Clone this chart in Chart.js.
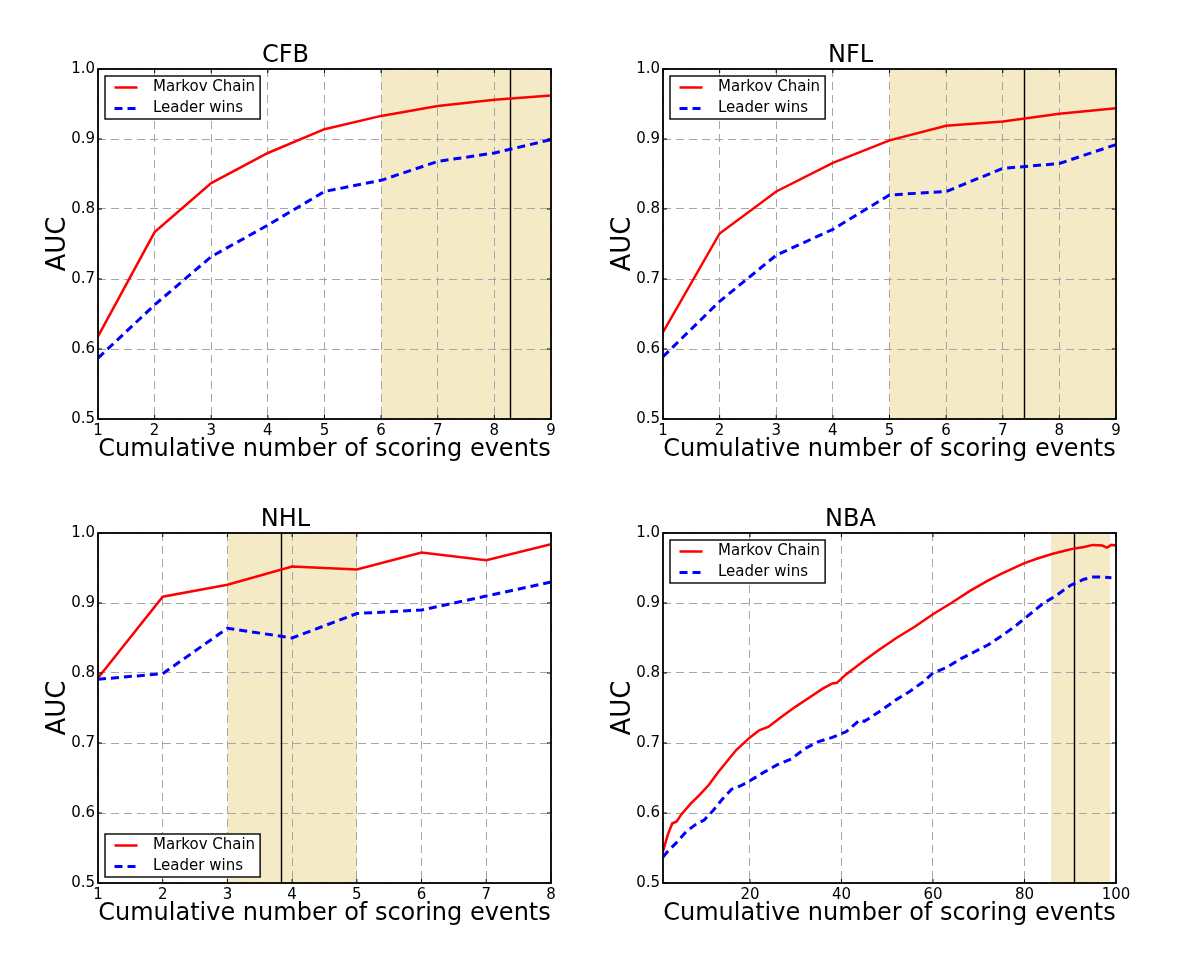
<!DOCTYPE html>
<html>
<head>
<meta charset="utf-8">
<script src="https://cdn.jsdelivr.net/npm/chart.js@4.4.1/dist/chart.umd.min.js"></script>
<style>
  body { margin: 0; background: #fff; }
  #wrap { position: relative; width: 1200px; height: 954px; background: #fff; }
  .panel { position: absolute; }
</style>
</head>
<body>
<div id="wrap">
  <canvas id="cfb" class="panel" width="600" height="477" style="left:0;top:0"></canvas>
  <canvas id="nfl" class="panel" width="600" height="477" style="left:565px;top:0"></canvas>
  <canvas id="nhl" class="panel" width="600" height="477" style="left:0;top:464px"></canvas>
  <canvas id="nba" class="panel" width="600" height="477" style="left:565px;top:464px"></canvas>
</div>
<script>
// --- data ---
const yTicks = [0.5, 0.6, 0.7, 0.8, 0.9, 1.0];

const cfbX = [1, 2, 3, 4, 5, 6, 7, 8, 9];
const cfbMarkov = [0.618, 0.767, 0.837, 0.880, 0.914, 0.933, 0.947, 0.956, 0.962];
const cfbLeader = [0.587, 0.663, 0.732, 0.777, 0.825, 0.841, 0.868, 0.880, 0.899];
const cfbTicks = [1, 2, 3, 4, 5, 6, 7, 8, 9];
const cfbShade = [6, 9];
const cfbCut = 8.28;

const nflX = [1, 2, 3, 4, 5, 6, 7, 8, 9];
const nflMarkov = [0.624, 0.765, 0.825, 0.866, 0.898, 0.919, 0.925, 0.936, 0.944];
const nflLeader = [0.589, 0.668, 0.734, 0.771, 0.820, 0.825, 0.858, 0.865, 0.892];
const nflTicks = [1, 2, 3, 4, 5, 6, 7, 8, 9];
const nflShade = [5, 9];
const nflCut = 7.37;

const nhlX = [1, 2, 3, 4, 5, 6, 7, 8];
const nhlMarkov = [0.793, 0.909, 0.926, 0.952, 0.948, 0.972, 0.961, 0.984];
const nhlLeader = [0.791, 0.799, 0.864, 0.850, 0.885, 0.890, 0.910, 0.930];
const nhlTicks = [1, 2, 3, 4, 5, 6, 7, 8];
const nhlShade = [3, 5];
const nhlCut = 3.83;

const nbaMarkovX = [1, 2, 3, 4, 5, 7, 9, 11, 13, 15, 17, 20, 22, 24, 27, 30, 33, 36, 38, 39,
  41, 45, 48, 52, 56, 60, 64, 68, 72, 75, 80, 83, 86, 89, 91, 93, 95, 97, 98, 99, 100];
const nbaMarkov = [0.545, 0.568, 0.585, 0.588, 0.598, 0.613, 0.626, 0.640, 0.658, 0.674,
  0.690, 0.708, 0.718, 0.723, 0.738, 0.752, 0.765, 0.778, 0.785, 0.786,
  0.798, 0.818, 0.832, 0.850, 0.866, 0.884, 0.900, 0.917, 0.932, 0.942,
  0.957, 0.964, 0.970, 0.975, 0.978, 0.980, 0.983, 0.982, 0.979, 0.983, 0.982];
const nbaLeaderX = [1, 2, 4, 6, 8, 10, 12, 14, 16, 18, 20, 23, 26, 29, 32, 35, 38, 41, 44, 45,
  46, 49, 52, 55, 58, 60, 63, 66, 69, 72, 75, 78, 81, 84, 87, 90, 93, 95, 97, 99];
const nbaLeader = [0.537, 0.545, 0.558, 0.573, 0.583, 0.590, 0.604, 0.620, 0.634, 0.639,
  0.646, 0.658, 0.669, 0.677, 0.692, 0.702, 0.708, 0.716, 0.733, 0.731,
  0.735, 0.748, 0.762, 0.774, 0.788, 0.800, 0.808, 0.820, 0.830, 0.840,
  0.853, 0.867, 0.883, 0.899, 0.911, 0.925, 0.934, 0.937, 0.937, 0.936];
const nbaTicks = [20, 40, 60, 80, 100];
const nbaShade = [85.8, 98.7];
const nbaCut = 90.9;

const FONT = 'DejaVu Sans';
const SHADE = '#f5eac6';
const GRID = '#a6a6a6';

Chart.defaults.font.family = FONT;
Chart.defaults.color = '#000';

function pts(xs, ys) {
  return xs.map((x, i) => ({ x: x, y: ys[i] }));
}

// shading, cut line, frame with inward ticks, boxed legend
const decor = {
  id: 'decor',
  beforeDraw(chart, args, opts) {
    const { ctx, chartArea: a, scales: { x } } = chart;
    const x0 = x.getPixelForValue(opts.shade[0]);
    const x1 = x.getPixelForValue(opts.shade[1]);
    ctx.save();
    ctx.fillStyle = SHADE;
    ctx.fillRect(x0, a.top, x1 - x0, a.bottom - a.top);
    ctx.restore();
  },
  beforeDatasetsDraw(chart, args, opts) {
    const { ctx, chartArea: a, scales: { x } } = chart;
    const xc = Math.round(x.getPixelForValue(opts.cut)) + 0.5;
    ctx.save();
    ctx.strokeStyle = '#000';
    ctx.lineWidth = 1.4;
    ctx.beginPath();
    ctx.moveTo(xc, a.top);
    ctx.lineTo(xc, a.bottom);
    ctx.stroke();
    ctx.restore();
  },
  afterDraw(chart, args, opts) {
    const { ctx, chartArea: a, scales: { x, y } } = chart;
    ctx.save();
    ctx.strokeStyle = '#000';
    ctx.lineWidth = 1;
    ctx.beginPath();
    x.ticks.forEach(t => {
      const px = x.getPixelForValue(t.value);
      ctx.moveTo(px, a.bottom); ctx.lineTo(px, a.bottom - 4);
      ctx.moveTo(px, a.top); ctx.lineTo(px, a.top + 4);
    });
    y.ticks.forEach(t => {
      const py = y.getPixelForValue(t.value);
      ctx.moveTo(a.left, py); ctx.lineTo(a.left + 4, py);
      ctx.moveTo(a.right, py); ctx.lineTo(a.right - 4, py);
    });
    ctx.stroke();
    ctx.lineWidth = 1.8;
    ctx.strokeRect(a.left, a.top, a.right - a.left, a.bottom - a.top);

    // legend box
    ctx.font = '15px "' + FONT + '"';
    const sets = chart.data.datasets;
    const tw = Math.max(...sets.map(d => ctx.measureText(d.label).width));
    const w = 48 + tw + 5, h = 43;
    const bx = a.left + 7;
    const by = opts.legend === 'bottom' ? a.bottom - 6 - h : a.top + 7;
    ctx.fillStyle = '#fff';
    ctx.fillRect(bx, by, w, h);
    ctx.lineWidth = 1.4;
    ctx.strokeRect(bx, by, w, h);
    sets.forEach((d, i) => {
      const cy = by + 11.5 + i * 21;
      ctx.strokeStyle = d.borderColor;
      ctx.lineWidth = d.borderWidth;
      ctx.setLineDash(d.borderDash || []);
      ctx.beginPath();
      ctx.moveTo(bx + 9.5, cy);
      ctx.lineTo(bx + 32.5, cy);
      ctx.stroke();
      ctx.setLineDash([]);
      ctx.fillStyle = '#000';
      ctx.textBaseline = 'middle';
      ctx.fillText(d.label, bx + 48, cy);
    });
    ctx.restore();
  }
};

function makeChart(id, title, markov, leader, xMax, xTicks, shade, cut, legendPos) {
  return new Chart(document.getElementById(id), {
    type: 'line',
    data: {
      datasets: [
        { label: 'Markov Chain', data: markov, borderColor: '#ff0000', borderWidth: 2.5,
          pointRadius: 0, tension: 0, fill: false },
        { label: 'Leader wins', data: leader, borderColor: '#0000ff', borderWidth: 3,
          borderDash: [8, 5], pointRadius: 0, tension: 0, fill: false }
      ]
    },
    plugins: [decor],
    options: {
      responsive: false,
      animation: false,
      devicePixelRatio: 1,
      layout: { padding: { top: 10, left: 20, right: 49, bottom: 12 } },
      plugins: {
        legend: { display: false },
        tooltip: { enabled: false },
        title: {
          display: true, text: title, color: '#000',
          font: { size: 24, weight: 'normal', lineHeight: 1 },
          padding: { top: 34, bottom: 1 }
        },
        decor: { shade: shade, cut: cut, legend: legendPos }
      },
      scales: {
        x: {
          type: 'linear', min: 1, max: xMax,
          afterBuildTicks: s => { s.ticks = xTicks.map(v => ({ value: v })); },
          afterFit: s => { s.height = 46; },
          ticks: { autoSkip: false, maxRotation: 0, padding: 3, font: { size: 15 },
                   callback: v => String(v) },
          grid: { color: GRID, lineWidth: 1, drawTicks: false },
          border: { display: false, dash: [8, 5] },
          title: { display: true, text: 'Cumulative number of scoring events',
                   font: { size: 24, lineHeight: 1 }, padding: { top: 0, bottom: 3 } }
        },
        y: {
          min: 0.5, max: 1.0,
          afterBuildTicks: s => { s.ticks = yTicks.map(v => ({ value: v })); },
          afterFit: s => { s.width = 78; },
          ticks: { padding: 3, font: { size: 15 }, callback: v => v.toFixed(1) },
          grid: { color: GRID, lineWidth: 1, drawTicks: false },
          border: { display: false, dash: [8, 5] },
          title: { display: true, text: 'AUC', font: { size: 26, lineHeight: 1 },
                   padding: { top: 25, bottom: 0 } }
        }
      }
    }
  });
}

makeChart('cfb', 'CFB', pts(cfbX, cfbMarkov), pts(cfbX, cfbLeader), 9, cfbTicks, cfbShade, cfbCut, 'top');
makeChart('nfl', 'NFL', pts(nflX, nflMarkov), pts(nflX, nflLeader), 9, nflTicks, nflShade, nflCut, 'top');
makeChart('nhl', 'NHL', pts(nhlX, nhlMarkov), pts(nhlX, nhlLeader), 8, nhlTicks, nhlShade, nhlCut, 'bottom');
makeChart('nba', 'NBA', pts(nbaMarkovX, nbaMarkov), pts(nbaLeaderX, nbaLeader), 100, nbaTicks, nbaShade, nbaCut, 'top');
</script>
</body>
</html>
